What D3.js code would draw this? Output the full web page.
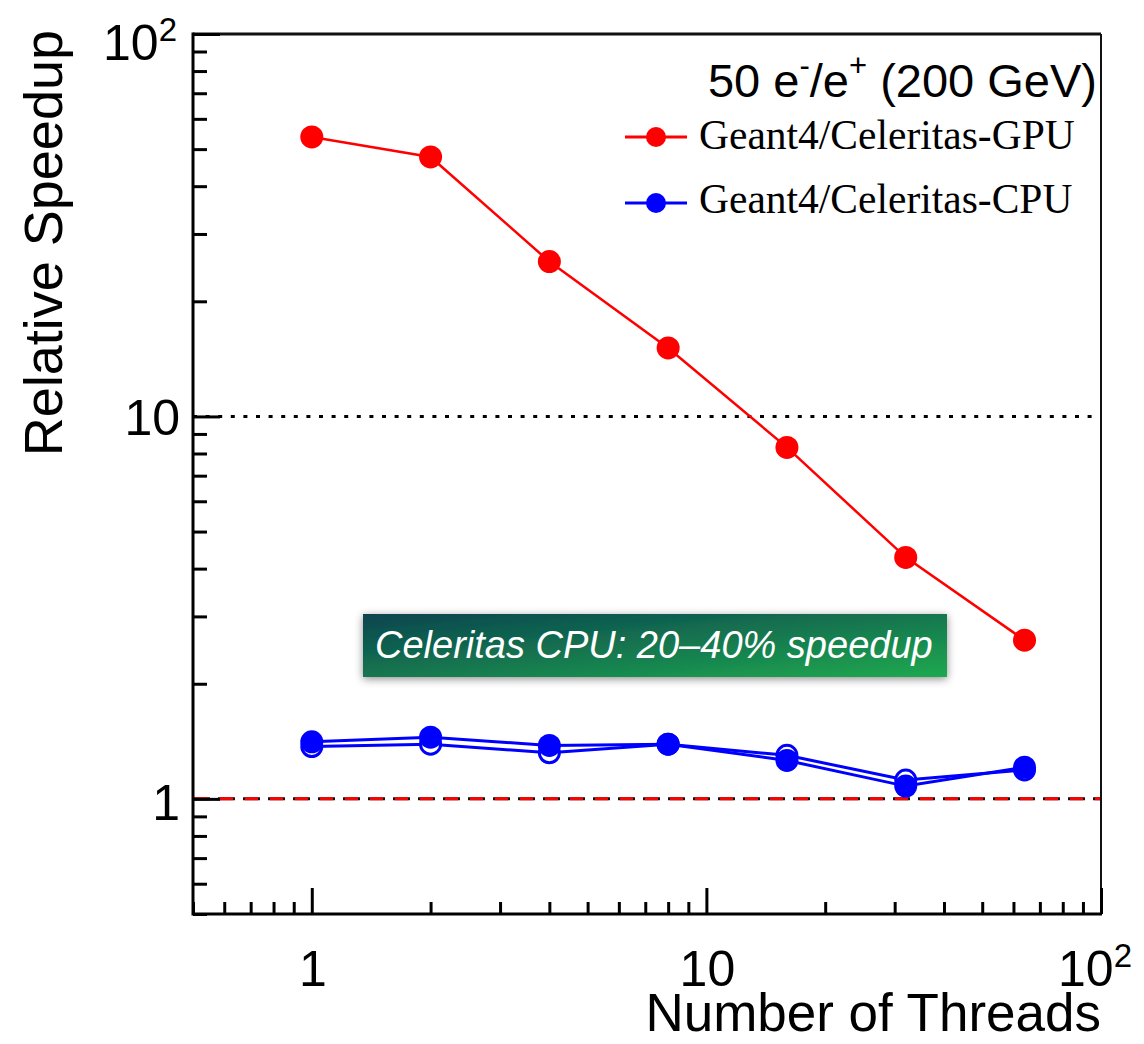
<!DOCTYPE html>
<html>
<head>
<meta charset="utf-8">
<script src="https://cdn.jsdelivr.net/npm/d3@7"></script>
<style>
html,body{margin:0;padding:0;background:#fff;}
svg{display:block;}
</style>
</head>
<body>
<svg id="chart" width="1144" height="1044"></svg>
<script>
// ---- data ----
const threads = [1, 2, 4, 8, 16, 32, 64];
const gpuSpeedup = [53.8, 47.7, 25.4, 15.1, 8.3, 4.28, 2.60];
const cpuSpeedup = [1.41, 1.45, 1.38, 1.39, 1.26, 1.08, 1.21];
const cpuSpeedupAlt = [1.37, 1.39, 1.32, 1.39, 1.30, 1.12, 1.19];
const xTickLabels = ["1", "10", "10|2"];
const yTickLabels = ["1", "10", "10|2"];
const xMajor = [1, 10, 100];
const yMajor = [1, 10, 100];
const legendLabels = ["Geant4/Celeritas-GPU", "Geant4/Celeritas-CPU"];
const noteText = "Celeritas CPU: 20\u201340% speedup";

// ---- layout ----
const L = 193, T = 34, R = 1101, B = 914;
const svg = d3.select("#chart");
const x = d3.scaleLog().domain([0.5, 100]).range([L, R]);
const y = d3.scaleLog().domain([0.5, 100]).range([B, T]);

const sans = "'Liberation Sans', Arial, Helvetica, sans-serif";
const serif = "'Liberation Serif', 'Times New Roman', serif";

function minors(lo, hi) {
  const out = [];
  for (let e = -1; e <= 2; e++) {
    for (let m = 2; m <= 9; m++) {
      const v = m * Math.pow(10, e);
      if (v >= lo && v <= hi) out.push(v);
    }
  }
  return out;
}

// reference lines
svg.append("line").attr("x1", L).attr("x2", R).attr("y1", y(10)).attr("y2", y(10))
  .attr("stroke", "#000").attr("stroke-width", 3).attr("stroke-dasharray", "4,8.6");
svg.append("line").attr("x1", L).attr("x2", R).attr("y1", y(1)).attr("y2", y(1))
  .attr("stroke", "#111").attr("stroke-width", 3).attr("stroke-dasharray", "17,8");
svg.append("line").attr("x1", L + 2).attr("x2", R).attr("y1", y(1)).attr("y2", y(1))
  .attr("stroke", "#ff0000").attr("stroke-width", 3).attr("stroke-dasharray", "13,12");

// frame: top and right
svg.append("line").attr("x1", L).attr("x2", R).attr("y1", T).attr("y2", T)
  .attr("stroke", "#111").attr("stroke-width", 3);
svg.append("line").attr("x1", R).attr("x2", R).attr("y1", T).attr("y2", B)
  .attr("stroke", "#111").attr("stroke-width", 2);

// axes via d3
const yAxisMinor = d3.axisRight(y).tickValues(minors(0.5, 100)).tickSize(14).tickFormat("");
const yAxisMajor = d3.axisRight(y).tickValues(yMajor).tickSize(27).tickFormat("");
const xAxisMinor = d3.axisTop(x).tickValues(minors(0.5, 100)).tickSize(12).tickFormat("");
const xAxisMajor = d3.axisTop(x).tickValues(xMajor).tickSize(26).tickFormat("");

function styleAxis(g) {
  g.select(".domain").remove();
  g.selectAll(".tick line").attr("stroke", "#000").attr("stroke-width", 3);
}
svg.append("g").attr("transform", `translate(${L},0)`).call(yAxisMinor).call(styleAxis);
svg.append("g").attr("transform", `translate(${L},0)`).call(yAxisMajor).call(styleAxis);
svg.append("g").attr("transform", `translate(0,${B})`).call(xAxisMinor).call(styleAxis);
svg.append("g").attr("transform", `translate(0,${B})`).call(xAxisMajor).call(styleAxis);

svg.append("line").attr("x1", L).attr("x2", L).attr("y1", T - 1.5).attr("y2", B + 1.5)
  .attr("stroke", "#000").attr("stroke-width", 3);
svg.append("line").attr("x1", L).attr("x2", R + 1).attr("y1", B).attr("y2", B)
  .attr("stroke", "#000").attr("stroke-width", 3);

// tick labels
function addLabel(parent, txt, attrs, size) {
  const parts = txt.split("|");
  const t = parent.append("text").attr("font-family", sans).attr("font-size", size).attr("fill", "#000");
  Object.entries(attrs).forEach(([k, v]) => t.attr(k, v));
  t.append("tspan").text(parts[0]);
  if (parts[1]) {
    t.append("tspan").attr("font-size", size * 0.66).attr("dy", -size * 0.38).text(parts[1]);
  }
  return t;
}
yMajor.forEach((v, i) => {
  let yy = y(v) + 19;
  if (v === 100) yy = 60;
  if (v === 1) yy = y(v) + 21;
  const txt = yTickLabels[i];
  addLabel(svg, txt, { x: txt.includes("|") ? 177 : 180, y: yy, "text-anchor": "end" }, 50);
});
xMajor.forEach((v, i) => {
  const txt = xTickLabels[i];
  const xx = txt.includes("|") ? x(v) - 6 : x(v) + 1;
  addLabel(svg, txt, { x: xx, y: 986, "text-anchor": "middle" }, 50);
});

// axis titles
svg.append("text").attr("font-family", sans).attr("font-size", 53)
  .attr("text-anchor", "end").attr("x", R).attr("y", 1031).text("Number of Threads");
svg.append("text").attr("font-family", sans).attr("font-size", 54)
  .attr("text-anchor", "end").attr("transform", `translate(62,30) rotate(-90)`).text("Relative Speedup");

// series
const line = d3.line().x(d => x(d[0])).y(d => y(d[1]));
const gpuData = threads.map((t, i) => [t, gpuSpeedup[i]]);
const cpuData = threads.map((t, i) => [t, cpuSpeedup[i]]);
const cpuAltData = threads.map((t, i) => [t, cpuSpeedupAlt[i]]);

svg.append("path").datum(cpuAltData).attr("d", line).attr("fill", "none")
  .attr("stroke", "#0000ff").attr("stroke-width", 3);
svg.selectAll(".openpt").data(cpuAltData).enter().append("circle")
  .attr("cx", d => x(d[0])).attr("cy", d => y(d[1])).attr("r", 10)
  .attr("fill", "#fff").attr("stroke", "#0000ff").attr("stroke-width", 3);

svg.append("path").datum(cpuData).attr("d", line).attr("fill", "none")
  .attr("stroke", "#0000ff").attr("stroke-width", 3);
svg.selectAll(".cpupt").data(cpuData).enter().append("circle")
  .attr("cx", d => x(d[0])).attr("cy", d => y(d[1])).attr("r", 11.5)
  .attr("fill", "#0000ff");

svg.append("path").datum(gpuData).attr("d", line).attr("fill", "none")
  .attr("stroke", "#ff0000").attr("stroke-width", 2.5);
svg.selectAll(".gpupt").data(gpuData).enter().append("circle")
  .attr("cx", d => x(d[0])).attr("cy", d => y(d[1])).attr("r", 11.5)
  .attr("fill", "#ff0000");

// title
const tt = svg.append("text").attr("font-family", sans).attr("font-size", 47)
  .attr("text-anchor", "end").attr("x", 1097).attr("y", 97);
tt.append("tspan").text("50 e");
tt.append("tspan").attr("font-size", 31).attr("dy", -21).text("-");
tt.append("tspan").attr("dy", 21).text("/e");
tt.append("tspan").attr("font-size", 31).attr("dy", -21).text("+");
tt.append("tspan").attr("dy", 21).text(" (200 GeV)");

// legend
const legColors = ["#ff0000", "#0000ff"];
const legY = [137, 203];
const legBase = [149, 213];
legendLabels.forEach((lab, i) => {
  svg.append("line").attr("x1", 625).attr("x2", 687).attr("y1", legY[i]).attr("y2", legY[i])
    .attr("stroke", legColors[i]).attr("stroke-width", 3);
  svg.append("circle").attr("cx", 656).attr("cy", legY[i]).attr("r", 10).attr("fill", legColors[i]);
  svg.append("text").attr("font-family", serif).attr("font-size", 41.5)
    .attr("x", 699).attr("y", legBase[i]).text(lab);
});

// annotation box
const defs = svg.append("defs");
const grad = defs.append("linearGradient").attr("id", "noteGrad")
  .attr("x1", "0%").attr("y1", "0%").attr("x2", "100%").attr("y2", "100%");
grad.append("stop").attr("offset", "0%").attr("stop-color", "#0a4450");
grad.append("stop").attr("offset", "100%").attr("stop-color", "#1fa94f");
const flt = defs.append("filter").attr("id", "shadow").attr("x", "-10%").attr("y", "-40%")
  .attr("width", "120%").attr("height", "180%");
flt.append("feDropShadow").attr("dx", 0).attr("dy", 2).attr("stdDeviation", 4)
  .attr("flood-color", "#000").attr("flood-opacity", 0.45);
svg.append("rect").attr("x", 363).attr("y", 614).attr("width", 584).attr("height", 63)
  .attr("fill", "url(#noteGrad)").attr("filter", "url(#shadow)");
svg.append("text").attr("font-family", sans).attr("font-style", "italic").attr("font-size", 38)
  .attr("fill", "#fff").attr("x", 375).attr("y", 658).text(noteText);
</script>
</body>
</html>
